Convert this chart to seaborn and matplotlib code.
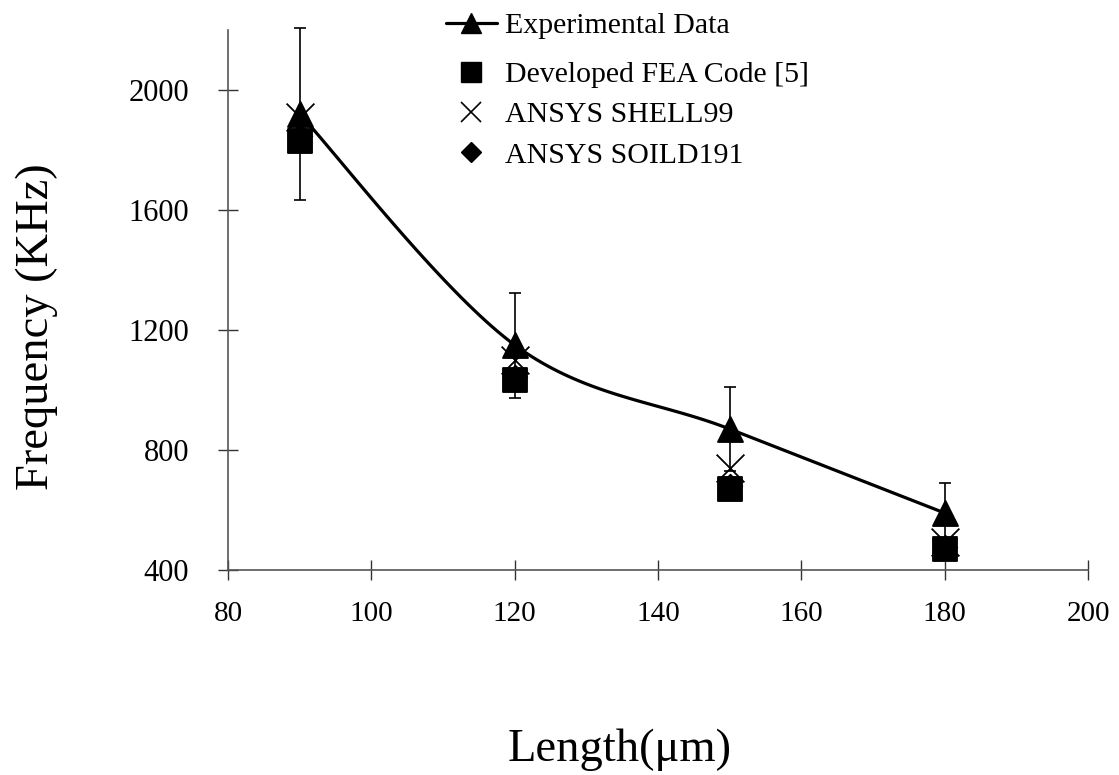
import numpy as np
import pandas as pd
import matplotlib
matplotlib.use("Agg")
import matplotlib.pyplot as plt
from matplotlib.lines import Line2D
import seaborn as sns

# ---- data ----
lengths = [90, 120, 150, 180]
experimental = [1920, 1150, 870, 590]
exp_error = [287, 175, 140, 100]
fea_code = [1830, 1035, 670, 470]
shell99 = [1910, 1100, 740, 495]
solid191 = [1845, 1045, 680, 478]

x_ticks = [80, 100, 120, 140, 160, 180, 200]
y_ticks = [400, 800, 1200, 1600, 2000]

sns.set_theme(style="white")
plt.rcParams['font.family'] = ['Liberation Serif', 'DejaVu Serif']
plt.rcParams['text.color'] = 'black'
plt.rcParams['axes.labelcolor'] = 'black'
plt.rcParams['xtick.labelcolor'] = 'black'
plt.rcParams['ytick.labelcolor'] = 'black'

fig = plt.figure(figsize=(11.19, 7.75), dpi=100)
ax = fig.add_axes([0.2038, 0.2645, 0.9723 - 0.2038, 0.9613 - 0.2645])

df = pd.DataFrame({"L": lengths, "exp": experimental, "err": exp_error,
                   "fea": fea_code, "shell": shell99, "solid": solid191})

# smooth (cardinal spline) rendering of the experimental line
def smooth(xs, ys, n=40):
    xs = np.asarray(xs, float); ys = np.asarray(ys, float)
    px = np.concatenate([[xs[0]], xs, [xs[-1]]])
    py = np.concatenate([[ys[0]], ys, [ys[-1]]])
    ox, oy = [], []
    t = np.linspace(0, 1, n)
    for i in range(1, len(px) - 2):
        p0 = np.array([px[i], py[i]]); p3 = np.array([px[i + 1], py[i + 1]])
        c1 = p0 + (np.array([px[i + 1], py[i + 1]]) - np.array([px[i - 1], py[i - 1]])) / 6
        c2 = p3 - (np.array([px[i + 2], py[i + 2]]) - np.array([px[i], py[i]])) / 6
        b = ((1 - t) ** 3)[:, None] * p0 + (3 * (1 - t) ** 2 * t)[:, None] * c1 \
            + (3 * (1 - t) * t ** 2)[:, None] * c2 + (t ** 3)[:, None] * p3
        ox.extend(b[:, 0]); oy.extend(b[:, 1])
    return np.array(ox), np.array(oy)

sx, sy = smooth(lengths, experimental)
sns.lineplot(x=sx, y=sy, ax=ax, color="black", linewidth=2.3, sort=False,
             estimator=None, zorder=2)

eb = ax.errorbar(df["L"], df["exp"], yerr=df["err"], fmt="none", ecolor="black",
                 elinewidth=1.2, capsize=4.3, capthick=1.2, zorder=2)
for art in eb.lines[1] + eb.lines[2]:
    art.set_clip_on(False)

sns.scatterplot(data=df, x="L", y="solid", ax=ax, marker="D", s=150,
                color="black", edgecolor="black", zorder=3)
sns.scatterplot(data=df, x="L", y="fea", ax=ax, marker="s", s=280,
                color="black", edgecolor="black", zorder=4)
sns.scatterplot(data=df, x="L", y="shell", ax=ax, marker="x", s=400,
                color="black", linewidth=1.3, zorder=5)
sns.scatterplot(data=df, x="L", y="exp", ax=ax, marker="^", s=320,
                color="black", edgecolor="black", zorder=6)

ax.set_xlim(80, 200)
ax.set_ylim(400, 2200)
ax.set_xticks(x_ticks)
ax.set_yticks(y_ticks)
ax.tick_params(axis="both", direction="inout", length=14, width=1.0,
               color="#333333", labelcolor="black", bottom=True, left=True)
ax.tick_params(axis="x", labelsize=21, pad=15)
ax.tick_params(axis="y", labelsize=22, pad=21)
for s in ["top", "right"]:
    ax.spines[s].set_visible(False)
for s in ["left", "bottom"]:
    ax.spines[s].set_color("#555555")
    ax.spines[s].set_linewidth(1.2)

ax.set_xlabel("Length(μm)", fontsize=33.5, color="black")
ax.xaxis.set_label_coords(0.455, -0.293)
ax.set_ylabel("Frequency (KHz)", fontsize=33.5, color="black")
ax.yaxis.set_label_coords(-0.198, 0.45)

labels = ["Experimental Data", "Developed FEA Code [5]", "ANSYS SHELL99", "ANSYS SOILD191"]
h_exp = [Line2D([], [], color="black", lw=2.3, marker="^", markersize=14)]
h_rest = [
    Line2D([], [], color="black", lw=0, marker="s", markersize=14),
    Line2D([], [], color="black", lw=0, marker="x", markersize=15, markeredgewidth=1.2),
    Line2D([], [], color="black", lw=0, marker="D", markersize=10),
]
common = dict(frameon=False, fontsize=21.5, handlelength=1.7, handletextpad=0.27,
              borderpad=0, borderaxespad=0, labelcolor="black")
leg1 = fig.legend(h_exp, labels[:1], loc="center left",
                  bbox_to_anchor=(446 / 1119, 1 - 26 / 775), **common)
leg2 = fig.legend(h_rest, labels[1:], loc="center left",
                  bbox_to_anchor=(446 / 1119, 1 - 115 / 775), labelspacing=0.45, **common)

fig.savefig("out.png", dpi=100)
